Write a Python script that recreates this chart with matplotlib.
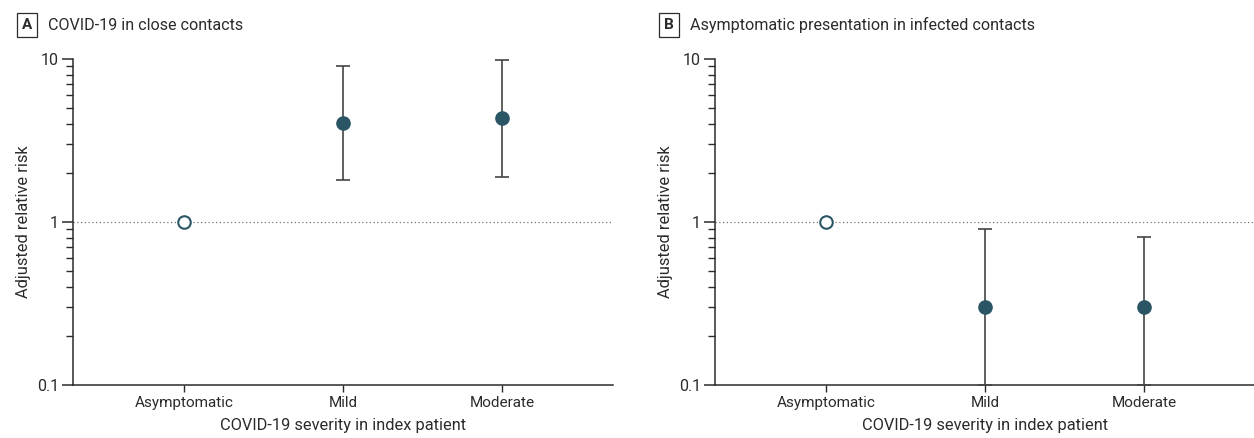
import numpy as np
import matplotlib
matplotlib.use("Agg")
import matplotlib.pyplot as plt
from matplotlib.ticker import LogLocator, NullFormatter, FixedLocator, FixedFormatter

plt.rcParams['font.family'] = ['Roboto', 'DejaVu Sans']

# data
categories = ['Asymptomatic', 'Mild', 'Moderate']
panel_labels = ['A', 'B']
panel_titles = ['COVID-19 in close contacts', 'Asymptomatic presentation in infected contacts']

rr_a = [1.0, 4.05, 4.35]
lo_a = [1.0, 1.81, 1.89]
hi_a = [1.0, 9.1, 9.85]

rr_b = [1.0, 0.3, 0.3]
lo_b = [1.0, 0.1, 0.1]
hi_b = [1.0, 0.9, 0.81]

xlabel = 'COVID-19 severity in index patient'
ylabel = 'Adjusted relative risk'

TEAL = '#2a5565'
DARK = '#2b2b2b'

fig = plt.figure(figsize=(12.54, 4.38), dpi=100)
W, H = 1254, 438
axes_px = [(73, 59, 540, 326), (715, 59, 540, 326)]

panels = [(rr_a, lo_a, hi_a), (rr_b, lo_b, hi_b)]

for i, (rr, lo, hi) in enumerate(panels):
    x0, y0, w, h = axes_px[i]
    ax = fig.add_axes([x0 / W, (H - y0 - h) / H, w / W, h / H])
    ax.set_yscale('log')
    ax.set_ylim(0.1, 10)
    ax.set_xlim(0.3, 3.7)
    x = np.arange(1, len(categories) + 1)
    rr = np.array(rr)
    lo = np.array(lo)
    hi = np.array(hi)

    ax.axhline(1, color='#777777', lw=0.9, ls=(0, (1, 2)), zorder=1)

    # reference category: open marker, no CI
    ax.plot(x[0], rr[0], 'o', ms=9, mfc='white', mec=TEAL, mew=1.5, zorder=4, clip_on=False)
    yerr = np.vstack([rr[1:] - lo[1:], hi[1:] - rr[1:]])
    ax.errorbar(x[1:], rr[1:], yerr=yerr, fmt='o', ms=9.5, color=TEAL,
                ecolor='#444444', elinewidth=1.2, capsize=4.8, capthick=1.2, zorder=3)

    for s in ['top', 'right']:
        ax.spines[s].set_visible(False)
    for s in ['left', 'bottom']:
        ax.spines[s].set_color(DARK)
        ax.spines[s].set_linewidth(1.1)

    ax.yaxis.set_major_locator(FixedLocator([0.1, 1, 10]))
    ax.yaxis.set_major_formatter(FixedFormatter(['0.1', '1', '10']))
    ax.yaxis.set_minor_locator(LogLocator(base=10, subs=np.arange(2, 10)))
    ax.yaxis.set_minor_formatter(NullFormatter())
    ax.tick_params(axis='y', which='major', length=8, width=1.1, color=DARK,
                   labelsize=11.5, labelcolor=DARK, pad=2)
    ax.tick_params(axis='y', which='minor', length=5, width=1.0, color=DARK)

    ax.set_xticks(x)
    ax.set_xticklabels(categories)
    ax.tick_params(axis='x', length=5, width=1.0, color=DARK, labelsize=11,
                   labelcolor=DARK, pad=3)

    ax.set_xlabel(xlabel, fontsize=11.8, color=DARK, labelpad=6)
    ax.set_ylabel(ylabel, fontsize=11.8, color=DARK, labelpad=4)

    # panel header
    fig.text((x0 - 46) / W, 1 - 25 / H, panel_labels[i], fontsize=11, fontweight='bold',
             color=DARK, ha='center', va='center',
             bbox=dict(boxstyle='square,pad=0.35', fc='white', ec=DARK, lw=0.9))
    fig.text((x0 - 25) / W, 1 - 25 / H, panel_titles[i], fontsize=11.6, color=DARK,
             ha='left', va='center')

fig.savefig('out.png', dpi=100)
